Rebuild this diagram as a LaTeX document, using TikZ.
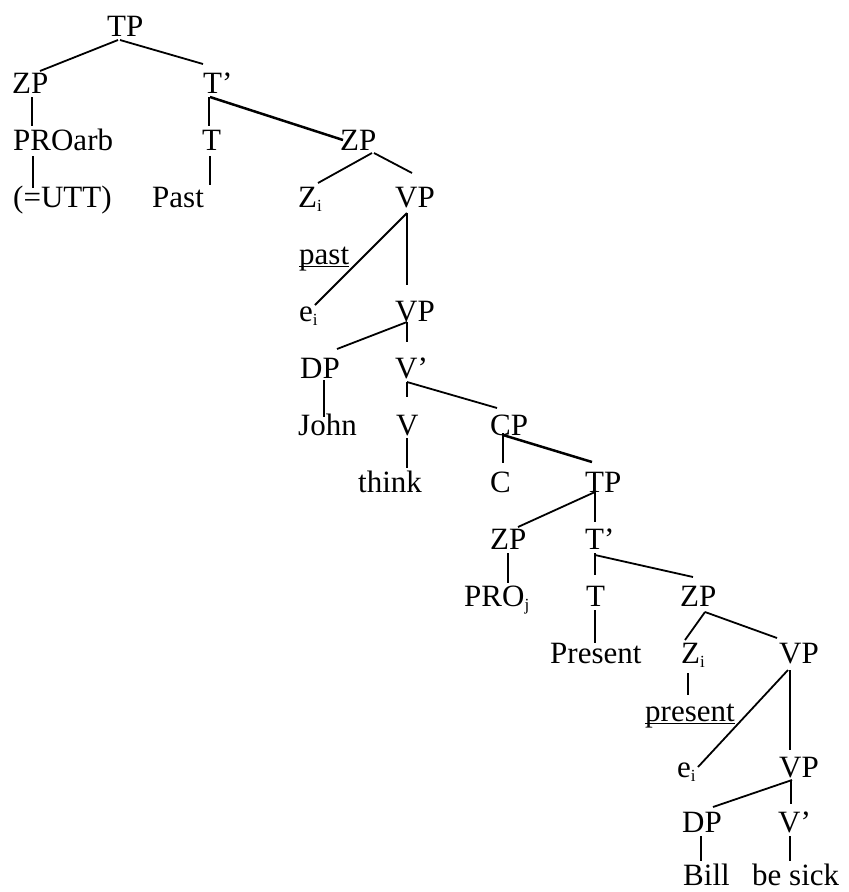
\documentclass[tikz,border=0pt]{standalone}
\usepackage{fontspec}
\setmainfont{Liberation Serif}
\newcommand{\lsub}[1]{\raisebox{-4pt}{\fontsize{17}{17}\selectfont #1}}
\begin{document}
\begin{tikzpicture}[x=1pt,y=-1pt,
  lbl/.style={inner sep=0pt, anchor=base west, font=\fontsize{31}{37}\selectfont},
  edge/.style={line width=1.8pt},
  heavy/.style={line width=2.5pt},
  uline/.style={line width=1pt}]
\useasboundingbox (0,0) rectangle (849,892);

% labels, placed by their left baseline point
\node[lbl] (tp)      at (107,36)  {TP};
\node[lbl] (zpa)     at (12,93)   {ZP};
\node[lbl] (tbar)    at (203,93)  {T’};
\node[lbl] (proarb)  at (13,150)  {PROarb};
\node[lbl] (ta)      at (202,150) {T};
\node[lbl] (zpb)     at (340,150) {ZP};
\node[lbl] (utt)     at (13,207)  {(=UTT)};
\node[lbl] (past)    at (152,207) {Past};
\node[lbl] (zi)      at (298,207) {Z\lsub{i}};
\node[lbl] (vpa)     at (395,207) {VP};
\node[lbl] (pastu)   at (299,264) {past};
\node[lbl] (ei)      at (299,321) {e\lsub{i}};
\node[lbl] (vpb)     at (395,321) {VP};
\node[lbl] (dpa)     at (300,378) {DP};
\node[lbl] (vbar)    at (395,378) {V’};
\node[lbl] (john)    at (298,435) {John};
\node[lbl] (v)       at (396,435) {V};
\node[lbl] (cp)      at (490,435) {CP};
\node[lbl] (think)   at (358,492) {think};
\node[lbl] (c)       at (490,492) {C};
\node[lbl] (tpb)     at (585,492) {TP};
\node[lbl] (zpc)     at (490,549) {ZP};
\node[lbl] (tbarb)   at (585,549) {T’};
\node[lbl] (proj)    at (464,606) {PRO\lsub{j}};
\node[lbl] (tb)      at (586,606) {T};
\node[lbl] (zpd)     at (680,606) {ZP};
\node[lbl] (present) at (550,663) {Present};
\node[lbl] (zib)     at (681,663) {Z\lsub{i}};
\node[lbl] (vpc)     at (779,663) {VP};
\node[lbl] (presentu) at (645,721) {present};
\node[lbl] (eib)     at (677,777) {e\lsub{i}};
\node[lbl] (vpd)     at (779,777) {VP};
\node[lbl] (dpb)     at (682,832) {DP};
\node[lbl] (vbarb)   at (778,832) {V’};
\node[lbl] (bill)    at (683,885) {Bill};
\node[lbl] (besick)  at (752,885) {be sick};

% underlines of the tense words
\draw[uline] ([yshift=-2pt]pastu.base west) -- ([yshift=-2pt]pastu.base east);
\draw[uline] ([yshift=-2pt]presentu.base west) -- ([yshift=-2pt]presentu.base east);

% branches
\draw[edge]  ([shift={(11,4)}]tp.base west)     -- ([shift={(28,-22)}]zpa.base west);
\draw[edge]  ([shift={(13,4)}]tp.base west)     -- ([shift={(0,-29)}]tbar.base west);
\draw[edge]  ([shift={(20,4)}]zpa.base west)    -- ([shift={(19,-24)}]proarb.base west);
\draw[edge]  ([shift={(6,4)}]tbar.base west)    -- ([shift={(7,-24)}]ta.base west);
\draw[heavy] ([shift={(7,4)}]tbar.base west)    -- ([shift={(3,-10)}]zpb.base west);
\draw[edge]  ([shift={(20,6)}]proarb.base west) -- ([shift={(20,-19)}]utt.base west);
\draw[edge]  ([shift={(8,6)}]ta.base west)      -- ([shift={(58,-22)}]past.base west);
\draw[edge]  ([shift={(32,3)}]zpb.base west)    -- ([shift={(20,-24)}]zi.base west);
\draw[edge]  ([shift={(34,3)}]zpb.base west)    -- ([shift={(17,-34)}]vpa.base west);
\draw[edge]  ([shift={(12,6)}]vpa.base west)    -- ([shift={(16,-16)}]ei.base west);
\draw[heavy] ([shift={(12,6)}]vpa.base west)    -- ([shift={(12,-36)}]vpb.base west);
\draw[edge]  ([shift={(12,1)}]vpb.base west)    -- ([shift={(37,-29)}]dpa.base west);
\draw[edge]  ([shift={(12,1)}]vpb.base west)    -- ([shift={(12,-36)}]vbar.base west);
\draw[edge]  ([shift={(24,2)}]dpa.base west)    -- ([shift={(26,-18)}]john.base west);
\draw[edge]  ([shift={(12,4)}]vbar.base west)   -- ([shift={(11,-38)}]v.base west);
\draw[edge]  ([shift={(12,4)}]vbar.base west)   -- ([shift={(7,-27)}]cp.base west);
\draw[edge]  ([shift={(11,3)}]v.base west)      -- ([shift={(49,-24)}]think.base west);
\draw[edge]  ([shift={(13,-2)}]cp.base west)    -- ([shift={(13,-29)}]c.base west);
\draw[heavy] ([shift={(13,0)}]cp.base west)     -- ([shift={(7,-30)}]tpb.base west);
\draw[edge]  ([shift={(10,0)}]tpb.base west)    -- ([shift={(28,-22)}]zpc.base west);
\draw[heavy] ([shift={(10,0)}]tpb.base west)    -- ([shift={(10,-27)}]tbarb.base west);
\draw[edge]  ([shift={(18,4)}]zpc.base west)    -- ([shift={(44,-23)}]proj.base west);
\draw[heavy] ([shift={(10,4)}]tbarb.base west)  -- ([shift={(9,-31)}]tb.base west);
\draw[edge]  ([shift={(10,6)}]tbarb.base west)  -- ([shift={(13,-29)}]zpd.base west);
\draw[edge]  ([shift={(9,4)}]tb.base west)      -- ([shift={(45,-20)}]present.base west);
\draw[edge]  ([shift={(25,6)}]zpd.base west)    -- ([shift={(4,-23)}]zib.base west);
\draw[edge]  ([shift={(25,6)}]zpd.base west)    -- ([shift={(-2,-25)}]vpc.base west);
\draw[edge]  ([shift={(7,10)}]zib.base west)    -- ([shift={(43,-26)}]presentu.base west);
\draw[edge]  ([shift={(9,7)}]vpc.base west)     -- ([shift={(21,-10)}]eib.base west);
\draw[heavy] ([shift={(11,7)}]vpc.base west)    -- ([shift={(11,-27)}]vpd.base west);
\draw[edge]  ([shift={(13,3)}]vpd.base west)    -- ([shift={(31,-25)}]dpb.base west);
\draw[edge]  ([shift={(12,3)}]vpd.base west)    -- ([shift={(13,-28)}]vbarb.base west);
\draw[edge]  ([shift={(19,4)}]dpb.base west)    -- ([shift={(18,-24)}]bill.base west);
\draw[edge]  ([shift={(12,4)}]vbarb.base west)  -- ([shift={(38,-24)}]besick.base west);
\end{tikzpicture}
\end{document}
